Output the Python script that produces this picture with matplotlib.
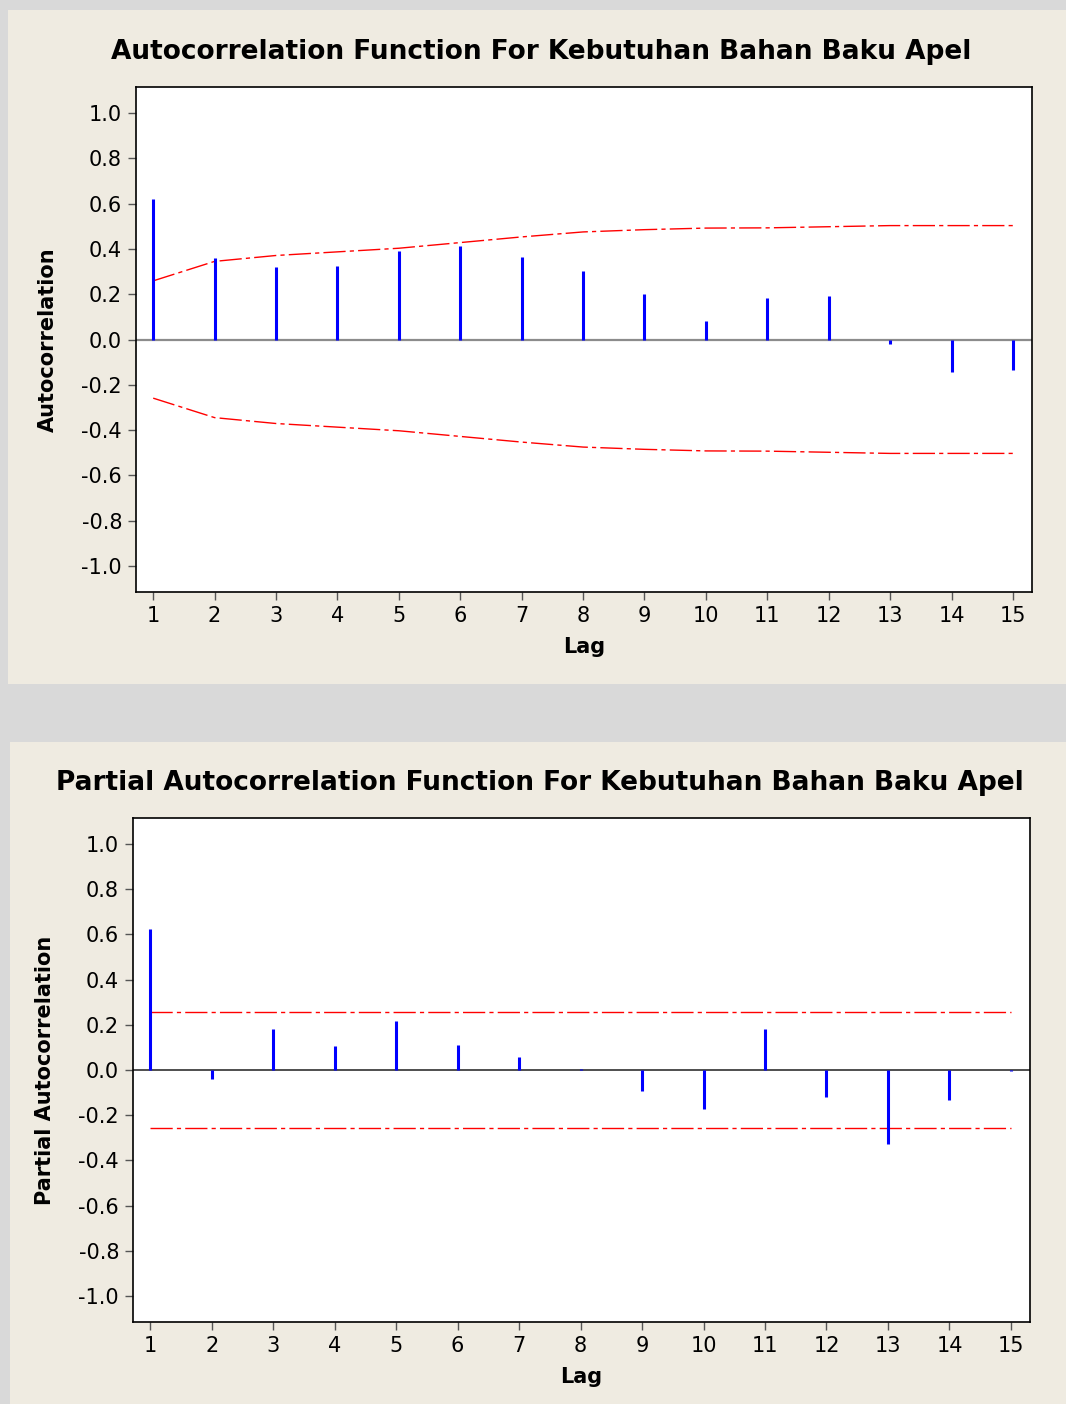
import matplotlib
matplotlib.use("Agg")
import matplotlib.pyplot as plt
from matplotlib.patches import Rectangle

lags = list(range(1, 16))

acf_values = [0.621, 0.361, 0.319, 0.324, 0.390, 0.414, 0.366, 0.302,
              0.199, 0.080, 0.184, 0.193, -0.022, -0.145, -0.136]
acf_limit = [0.259, 0.345, 0.371, 0.387, 0.403, 0.428, 0.453, 0.475,
             0.485, 0.492, 0.493, 0.498, 0.503, 0.503, 0.503]

pacf_values = [0.625, -0.040, 0.181, 0.106, 0.218, 0.111, 0.059, 0.005,
               -0.092, -0.173, 0.181, -0.121, -0.327, -0.134, -0.004]
pacf_limit = 0.258

yticks = [1.0, 0.8, 0.6, 0.4, 0.2, 0.0, -0.2, -0.4, -0.6, -0.8, -1.0]

BEIGE = "#efebe1"
GRAY_BG = "#d9d9d9"

plt.rcParams["lines.scale_dashes"] = False
plt.rcParams["font.family"] = ["DejaVu Sans"]

W, H = 1066, 1404
fig = plt.figure(figsize=(W / 100, H / 100), dpi=100)
fig.patch.set_facecolor(GRAY_BG)

# background panels, drawn in pixel coordinates on a full-figure axes
bg = fig.add_axes([0, 0, 1, 1], zorder=-10)
bg.set_xlim(0, W)
bg.set_ylim(H, 0)
bg.axis("off")
bg.add_patch(Rectangle((8, 10), W - 8, 674, facecolor=BEIGE, edgecolor="none"))
bg.add_patch(Rectangle((10, 742), W - 10, H - 742, facecolor=BEIGE, edgecolor="none"))

dash = (0, (16, 3, 3, 3))


def style_axes(ax, ylabel):
    ax.set_xlim(0.72, 15.31)
    ax.set_ylim(-1.115, 1.115)
    ax.set_xticks(lags)
    ax.set_yticks(yticks)
    ax.set_yticklabels([f"{v:.1f}" for v in yticks])
    ax.tick_params(axis="both", direction="out", length=6, width=1,
                   color="#555555", labelsize=15, pad=4)
    for s in ax.spines.values():
        s.set_color("black")
        s.set_linewidth(1.2)
    ax.set_facecolor("white")
    ax.set_xlabel("Lag", fontsize=15, fontweight="bold")
    ax.xaxis.set_label_coords(0.5, -0.089)
    ax.set_ylabel(ylabel, fontsize=15, fontweight="bold")
    ax.yaxis.set_label_coords(-0.087, 0.5)


# ACF
ax1 = fig.add_axes([136 / W, 1 - 592 / H, 896 / W, 505 / H])
ax1.axhline(0, color="#8c8c8c", lw=1.6, zorder=1)
ax1.vlines(lags, 0, acf_values, colors="#0000ff", lw=2.2, zorder=3)
ax1.plot(lags, acf_limit, color="#ff0000", lw=1.0, linestyle=dash, zorder=2)
ax1.plot(lags, [-v for v in acf_limit], color="#ff0000", lw=1.0, linestyle=dash, zorder=2)
style_axes(ax1, "Autocorrelation")
fig.text(541 / W, 1 - 52 / H, "Autocorrelation Function For Kebutuhan Bahan Baku Apel",
         fontsize=19, fontweight="bold", ha="center", va="center")

# PACF
ax2 = fig.add_axes([133 / W, 1 - 1322 / H, 897 / W, 504 / H])
ax2.axhline(0, color="#404040", lw=1.3, zorder=1)
ax2.vlines(lags, 0, pacf_values, colors="#0000ff", lw=2.2, zorder=3)
ax2.plot(lags, [pacf_limit] * len(lags), color="#ff0000", lw=1.0, linestyle=dash, zorder=2)
ax2.plot(lags, [-pacf_limit] * len(lags), color="#ff0000", lw=1.0, linestyle=dash, zorder=2)
style_axes(ax2, "Partial Autocorrelation")
fig.text(540 / W, 1 - 783 / H, "Partial Autocorrelation Function For Kebutuhan Bahan Baku Apel",
         fontsize=19, fontweight="bold", ha="center", va="center")

fig.savefig("out.png", dpi=100, facecolor=fig.get_facecolor())
